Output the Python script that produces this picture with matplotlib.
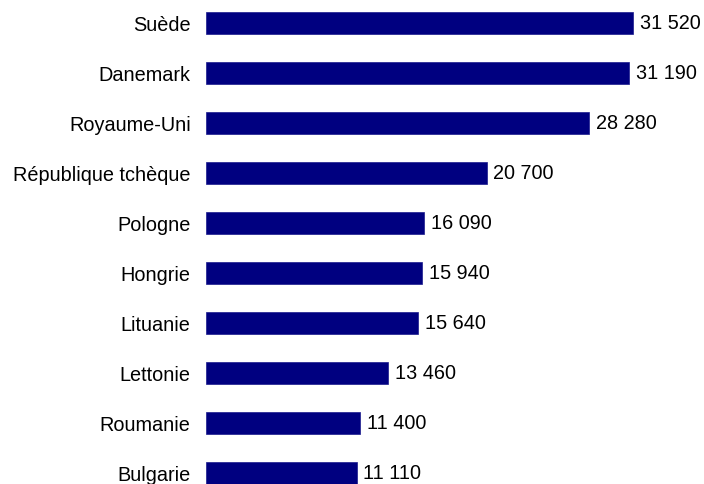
import matplotlib
matplotlib.use("Agg")
import matplotlib.pyplot as plt

countries = ["Suède", "Danemark", "Royaume-Uni", "République tchèque", "Pologne",
             "Hongrie", "Lituanie", "Lettonie", "Roumanie", "Bulgarie"]
values = [31520, 31190, 28280, 20700, 16090, 15940, 15640, 13460, 11400, 11110]

plt.rcParams['font.family'] = ['Liberation Sans', 'DejaVu Sans']

fig = plt.figure(figsize=(7.04, 4.85), dpi=100)
ax = fig.add_axes([206/704, 0, 1 - 206/704, 1])
pos = list(range(len(countries)))
ax.barh(pos, values, height=0.44, color="#000080", edgecolor="#1a1a8c", linewidth=0.5)
ax.set_ylim(len(countries) - 1 + 0.22, -0.48)
ax.set_xlim(0, 36750)
for p, v in zip(pos, values):
    ax.annotate(f"{v:,}".replace(",", " "), (v, p), xytext=(5, 0), textcoords="offset points",
                va="center", ha="left", fontsize=14.3)
ax.set_yticks(pos)
ax.set_yticklabels(countries, fontsize=14.3)
ax.tick_params(axis="y", length=0, pad=11)
ax.set_xticks([])
for s in ax.spines.values():
    s.set_visible(False)
fig.savefig("out.png", dpi=100)
